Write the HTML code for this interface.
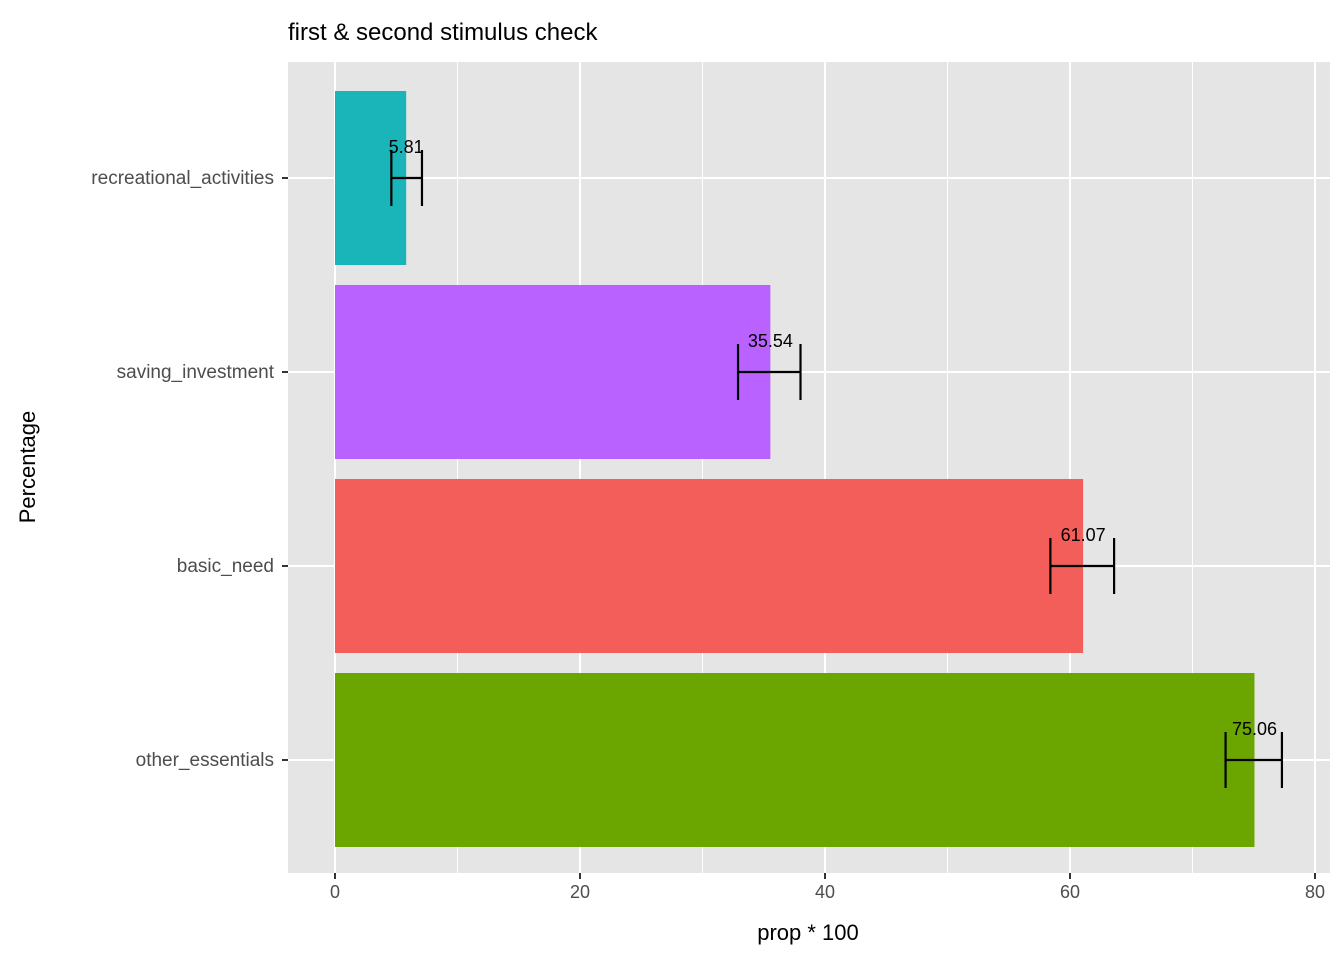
<!DOCTYPE html>
<html><head><meta charset="utf-8"><style>
body{margin:0;background:#fff;font-family:"Liberation Sans",Arial,sans-serif}
svg text{font-family:"Liberation Sans",Arial,sans-serif}
</style></head><body>
<svg id="chart" width="1344" height="960" viewBox="0 0 1344 960">
<text x="288" y="40" font-size="24" fill="#000">first &amp; second stimulus check</text>
<rect x="288" y="62" width="1042" height="811" fill="#e5e5e5"/>
<g id="grid"></g><g id="bars"></g><g id="axes"></g>
<text x="808" y="940" font-size="22" text-anchor="middle" fill="#000">prop * 100</text>
<text transform="translate(35,467) rotate(-90)" font-size="22" text-anchor="middle" fill="#000">Percentage</text>
</svg>
<script>
const categories=["other_essentials","basic_need","saving_investment","recreational_activities"];
const values=[75.06,61.07,35.54,5.81];
const lowers=[72.7,58.4,32.9,4.6];
const uppers=[77.3,63.6,38.0,7.1];
const colors=["#6BA500","#F35E5A","#B962FF","#1AB5B8"];
const xTicks=[0,20,40,60,80];
const NS="http://www.w3.org/2000/svg";
const x=v=>335+v*12.25;
const yC=i=>760-i*194;
function mk(t,a,p){const e=document.createElementNS(NS,t);for(const k in a)e.setAttribute(k,a[k]);p.appendChild(e);return e;}
const grid=document.getElementById('grid'),bars=document.getElementById('bars'),axes=document.getElementById('axes');
for(let i=0;i<xTicks.length-1;i++){const m=(xTicks[i]+xTicks[i+1])/2;
 const l=mk('line',{x1:x(m),x2:x(m),y1:62,y2:873,stroke:'#fff','stroke-width':1},grid);
 
 }
xTicks.forEach(t=>{
 const l=mk('line',{x1:x(t),x2:x(t),y1:62,y2:873,stroke:'#fff','stroke-width':2},grid);
 
 
 const k=mk('line',{x1:x(t),x2:x(t),y1:873,y2:879,stroke:'#333','stroke-width':2},axes);
 
 
 const tx=mk('text',{x:x(t),y:898,'font-size':18,'text-anchor':'middle',fill:'#4d4d4d'},axes);
 tx.textContent=t;
 
 });
categories.forEach((c,i)=>{
 const y=yC(i);
 const g=mk('line',{x1:288,x2:1330,y1:y,y2:y,stroke:'#fff','stroke-width':2},grid);
 
 
 const r=mk('rect',{x:x(0),y:y-87,width:x(values[i])-x(0),height:174,fill:colors[i]},bars);
 
 
 const eb=mk('path',{d:`M${x(lowers[i])} ${y-28}V${y+28}M${x(uppers[i])} ${y-28}V${y+28}M${x(lowers[i])} ${y}H${x(uppers[i])}`,stroke:'#000','stroke-width':2.2,fill:'none'},bars);
 
 
 const lb=mk('text',{x:x(values[i]),y:y-25,'font-size':18,'text-anchor':'middle',fill:'#000'},bars);
 lb.textContent=values[i].toFixed(2);
 
 
 const k=mk('line',{x1:282,x2:288,y1:y,y2:y,stroke:'#333','stroke-width':2},axes);
 
 
 const tl=mk('text',{x:274,y:y+6,'font-size':19,'text-anchor':'end',fill:'#4d4d4d'},axes);
 tl.textContent=c;
 
 });
</script>
</body></html>
